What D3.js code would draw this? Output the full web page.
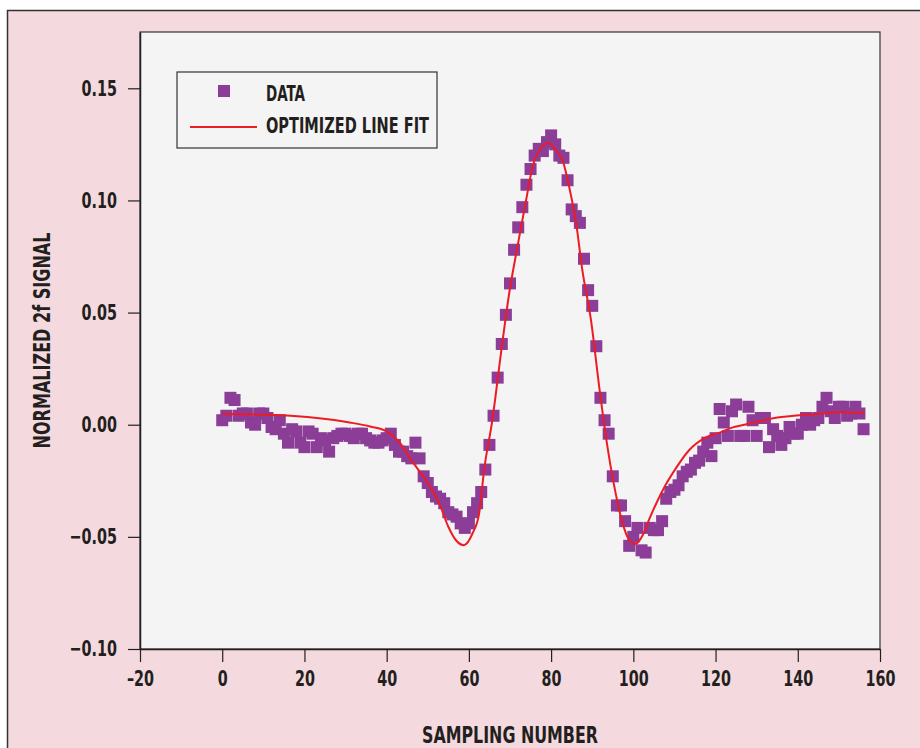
<!DOCTYPE html>
<html>
<head>
<meta charset="utf-8">
<script src="https://cdn.jsdelivr.net/npm/d3@7"></script>
<style>
  html, body { margin: 0; padding: 0; background: #ffffff; }
  svg { display: block; }
  text { font-family: "DejaVu Sans Condensed", "Liberation Sans Narrow", sans-serif; font-weight: bold; fill: #231f20; }
</style>
</head>
<body>
<script>
// data
const sampleValues = [
  0.002, 0.004, 0.012, 0.011, 0.004, 0.005, 0.005, 0.001, 0.000, 0.005,
  0.005, 0.003, -0.001, -0.002, 0.002, -0.004, -0.008, -0.002, -0.003, -0.008,
  -0.010, -0.003, -0.004, -0.010, -0.006, -0.007, -0.012, -0.006, -0.005, -0.004,
  -0.004, -0.005, -0.006, -0.004, -0.004, -0.006, -0.007, -0.008, -0.008, -0.007,
  -0.006, -0.004, -0.009, -0.012, -0.012, -0.014, -0.015, -0.008, -0.015, -0.023,
  -0.026, -0.030, -0.032, -0.033, -0.035, -0.039, -0.040, -0.041, -0.044, -0.046,
  -0.044, -0.039, -0.035, -0.030, -0.020, -0.009, 0.004, 0.021, 0.036, 0.049,
  0.063, 0.078, 0.088, 0.097, 0.107, 0.114, 0.120, 0.123, 0.122, 0.126,
  0.129, 0.125, 0.120, 0.119, 0.109, 0.096, 0.093, 0.090, 0.074, 0.060,
  0.053, 0.035, 0.012, 0.002, -0.004, -0.023, -0.036, -0.036, -0.043, -0.054,
  -0.050, -0.046, -0.056, -0.057, -0.046, -0.047, -0.047, -0.043, -0.033, -0.030,
  -0.029, -0.027, -0.023, -0.021, -0.020, -0.017, -0.016, -0.012, -0.008, -0.014,
  -0.006, 0.007, 0.001, -0.005, 0.006, 0.009, -0.005, -0.005, 0.008, 0.002,
  -0.005, 0.003, 0.003, -0.010, -0.002, -0.005, -0.009, -0.006, -0.001, -0.004,
  -0.004, 0.000, 0.003, 0.000, 0.002, 0.003, 0.008, 0.012, 0.006, 0.003,
  0.008, 0.008, 0.004, 0.005, 0.008, 0.005, -0.002
]
const sampleNumbers = d3.range(sampleValues.length)

// optimized fit, read at points along the red curve
const fitX = [
  0, 13, 23, 31, 36, 40, 43, 46, 49.5, 52.8, 55, 56.8, 58.8, 60.9, 62.5,
  63.7, 65.7, 67.8, 69.8, 71.8, 73.9, 75.5, 77.1, 79.4, 81.5, 82.8, 84.4,
  86.1, 87.6, 89.7, 91.7, 93.7, 95.7, 97.4, 99, 100.5, 102.3, 103.9, 105.6,
  107.8, 110.5, 113.5, 117.3, 121, 124.2, 128.3, 135.5, 144.1, 150.2, 156.3
]
const fitY = [
  0.0048, 0.0043, 0.0030, 0.0010, -0.0008, -0.003, -0.0076, -0.0158, -0.0247, -0.0351,
  -0.0455, -0.0514, -0.0537, -0.0484, -0.0395, -0.0202, 0.002, 0.0318, 0.0585, 0.0793,
  0.100, 0.115, 0.1224, 0.1256, 0.1216, 0.1179, 0.106, 0.0897, 0.0689, 0.0466,
  0.0169, -0.0098, -0.0306, -0.044, -0.0514, -0.0532, -0.0492, -0.042, -0.035, -0.027,
  -0.019, -0.0115, -0.0060, -0.0035, -0.0012, 0.0005, 0.0033, 0.0047, 0.0056, 0.0053
]

const xTicks = [-20, 0, 20, 40, 60, 80, 100, 120, 140, 160]
const yTicks = [-0.10, -0.05, 0.00, 0.05, 0.10, 0.15]
const legendLabels = ["DATA", "OPTIMIZED LINE FIT"]

const width = 920
const height = 748
const margin = [32, 40, 99, 140] // top right bottom left
const purple = "#8b3d97"
const red = "#ed1c24"
const squeeze = 0.76 // narrow the labels like the condensed face of the original

const dash = s => s.replace("-", "\u2013")

const xScale = d3.scaleLinear().domain([-20, 160]).range([margin[3], width - margin[1]])
const yScale = d3.scaleLinear().domain([-0.10, 0.1751]).range([height - margin[2], margin[0]])

const svg = d3
  .create("svg")
  .attr("width", width)
  .attr("height", height)
  .attr("viewBox", [0, 0, width, height])

// outer pink panel
svg
  .append("rect")
  .attr("x", 7.5)
  .attr("y", 10.5)
  .attr("width", width)
  .attr("height", height)
  .attr("fill", "#f4dade")
  .attr("stroke", "#333333")
  .attr("stroke-width", 1.5)

// plot area
svg
  .append("rect")
  .attr("x", xScale.range()[0])
  .attr("y", yScale.range()[1])
  .attr("width", xScale.range()[1] - xScale.range()[0])
  .attr("height", yScale.range()[0] - yScale.range()[1])
  .attr("fill", "#f4f4f4")
  .attr("stroke", "#333333")
  .attr("stroke-width", 1.2)

const xAxis = d3.axisBottom(xScale).tickValues(xTicks).tickFormat(d => dash(String(d))).tickSize(13).tickPadding(9).tickSizeOuter(0)
const yAxis = d3.axisLeft(yScale).tickValues(yTicks).tickFormat(d => dash(d3.format(".2f")(d))).tickSize(12).tickPadding(11).tickSizeOuter(0)

function squeezeText(sel) {
  sel.each(function () {
    const t = d3.select(this)
    const x = +t.attr("x") || 0
    t.attr("x", 0).attr("transform", `translate(${x},0) scale(${squeeze},1)`)
  })
}

function styleAxis(g) {
  g.select(".domain").attr("stroke", "#231f20").attr("stroke-width", 1.5)
  g.selectAll(".tick line").attr("stroke", "#231f20").attr("stroke-width", 1.2)
  g.selectAll(".tick text")
    .style("font-size", "21px")
    .attr("fill", "#231f20")
    .call(squeezeText)
}

svg
  .append("g")
  .attr("class", "x-axis")
  .attr("transform", `translate(0,${yScale.range()[0]})`)
  .call(xAxis)
  .call(styleAxis)

svg
  .append("g")
  .attr("class", "y-axis")
  .attr("transform", `translate(${xScale.range()[0]},0)`)
  .call(yAxis)
  .call(styleAxis)

// data squares
const size = 12
svg
  .append("g")
  .attr("fill", purple)
  .selectAll("rect")
  .data(sampleNumbers)
  .join("rect")
  .attr("x", i => xScale(sampleNumbers[i]) - size / 2)
  .attr("y", i => yScale(sampleValues[i]) - size / 2)
  .attr("width", size)
  .attr("height", size)

// fit line
const line = d3
  .line()
  .x(i => xScale(fitX[i]))
  .y(i => yScale(fitY[i]))
  .curve(d3.curveMonotoneX)

svg
  .append("path")
  .attr("d", line(d3.range(fitX.length)))
  .attr("fill", "none")
  .attr("stroke", red)
  .attr("stroke-width", 2)

// legend
const legend = svg.append("g").attr("transform", "translate(177,72)")
legend
  .append("rect")
  .attr("width", 260)
  .attr("height", 76)
  .attr("fill", "#f4f4f4")
  .attr("stroke", "#333333")
  .attr("stroke-width", 1.2)
legend
  .append("rect")
  .attr("x", 41)
  .attr("y", 13)
  .attr("width", size)
  .attr("height", size)
  .attr("fill", purple)
legend
  .append("line")
  .attr("x1", 13)
  .attr("x2", 80)
  .attr("y1", 55)
  .attr("y2", 55)
  .attr("stroke", red)
  .attr("stroke-width", 2)
legend
  .selectAll("text")
  .data(legendLabels)
  .join("text")
  .attr("x", 89)
  .attr("y", (d, i) => 29 + i * 32)
  .attr("textLength", (d, i) => [39, 163][i])
  .attr("lengthAdjust", "spacingAndGlyphs")
  .style("font-size", "22px")
  .text(d => d)

// axis titles
svg
  .append("text")
  .attr("x", (xScale.range()[0] + xScale.range()[1]) / 2)
  .attr("y", 743)
  .attr("text-anchor", "middle")
  .attr("textLength", 176)
  .attr("lengthAdjust", "spacingAndGlyphs")
  .style("font-size", "23px")
  .text("SAMPLING NUMBER")

svg
  .append("text")
  .attr("transform", `translate(50,${(yScale.range()[0] + yScale.range()[1]) / 2}) rotate(-90)`)
  .attr("text-anchor", "middle")
  .attr("textLength", 216)
  .attr("lengthAdjust", "spacingAndGlyphs")
  .style("font-size", "23px")
  .text("NORMALIZED 2f SIGNAL")

document.body.append(svg.node())
</script>
</body>
</html>
